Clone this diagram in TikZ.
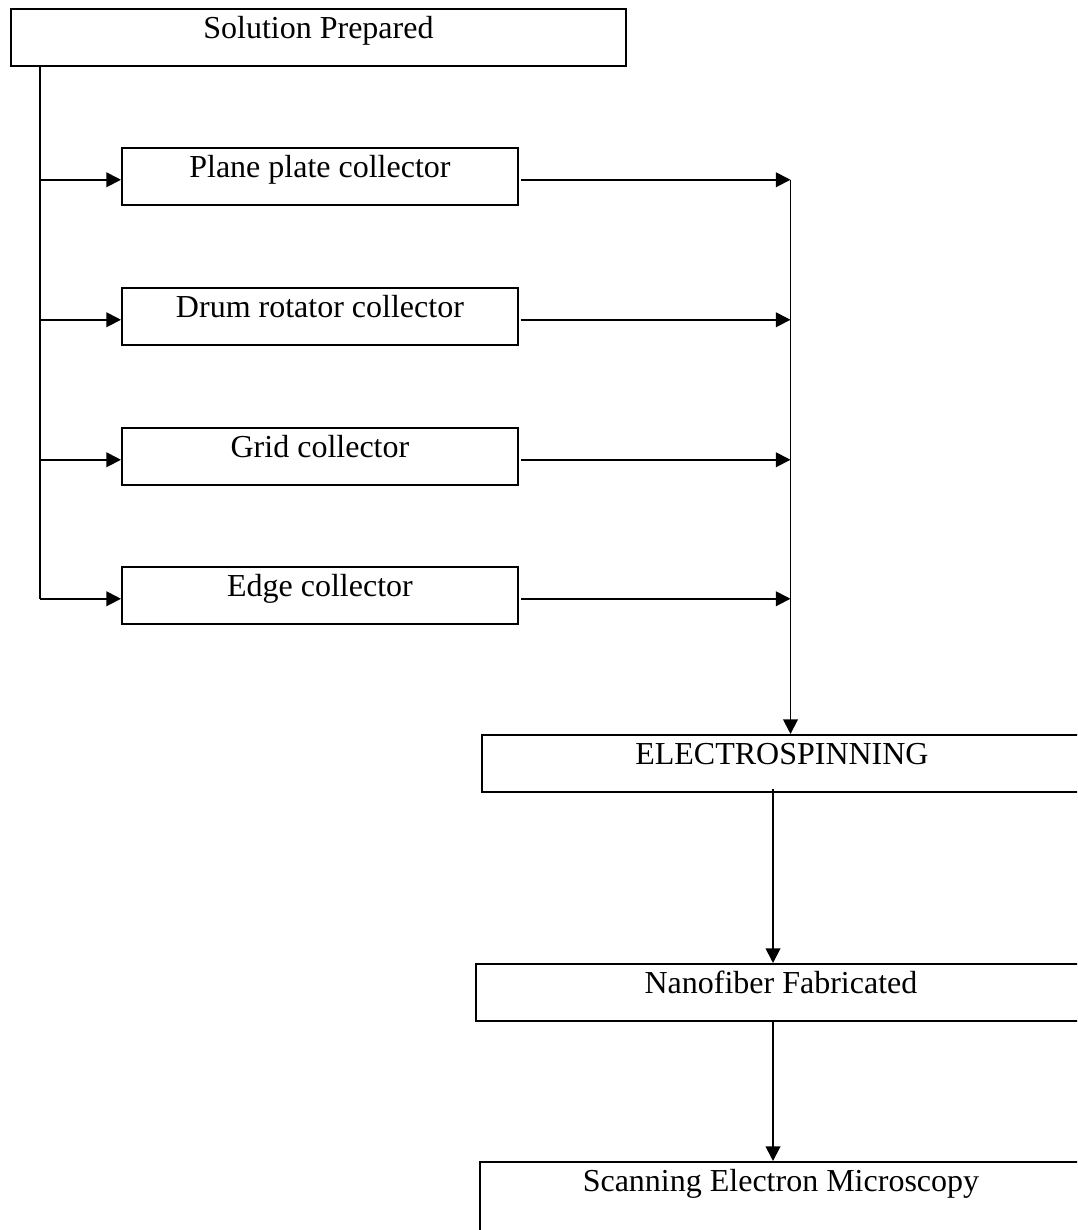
\documentclass[tikz,border=0pt]{standalone}
\usepackage{fontspec}
\setmainfont{Liberation Serif}
\usetikzlibrary{arrows.meta}
\begin{document}
\begin{tikzpicture}[x=0.75pt,y=-0.75pt,
  box/.style={draw,line width=1.4pt,rectangle,anchor=north west,inner sep=0pt,
     text height=22.5pt,text depth=20.25pt,minimum height=42.75pt,
     font=\fontsize{24}{28}\selectfont},
  arr/.style={line width=1.4pt,-{Triangle[length=11pt,width=11pt]}},
  ln/.style={line width=1.4pt}]
\useasboundingbox (0,0) rectangle (1077,1230);
\clip (0,0) rectangle (1077,1230);
\node[box,minimum width=461.25pt] (sol) at (10,8) {Solution Prepared};
\node[box,minimum width=297pt] (plane) at (121,147) {Plane plate collector};
\node[box,minimum width=297pt] (drum) at (121,287) {Drum rotator collector};
\node[box,minimum width=297pt] (grid) at (121,427) {Grid collector};
\node[box,minimum width=297pt] (edge) at (121,566) {Edge collector};
\node[box,minimum width=450pt] (elec) at (481,734) {ELECTROSPINNING};
\node[box,minimum width=457.5pt] (nano) at (475,963) {Nanofiber Fabricated};
\node[box,minimum width=451.5pt,text depth=54pt,minimum height=76.5pt] (sem) at (479,1161) {Scanning Electron Microscopy};
\coordinate (trunk) at (40,64);
\coordinate (bus) at (790.5,179);
\coordinate (ax) at (773,0);
\draw[ln] (sol.south -| trunk) -- ([yshift=-2.5pt]edge.west -| trunk);
\draw[arr] ([yshift=-2.5pt]plane.west -| trunk) -- ([yshift=-2.5pt]plane.west);
\draw[arr] ([yshift=-2.5pt]drum.west -| trunk) -- ([yshift=-2.5pt]drum.west);
\draw[arr] ([yshift=-2.5pt]grid.west -| trunk) -- ([yshift=-2.5pt]grid.west);
\draw[arr] ([yshift=-2.5pt]edge.west -| trunk) -- ([yshift=-2.5pt]edge.west);
\draw[arr] ([xshift=1.5pt,yshift=-2.5pt]plane.east) -- ([yshift=-2.5pt]plane.east -| bus);
\draw[arr] ([xshift=1.5pt,yshift=-2.5pt]drum.east) -- ([yshift=-2.5pt]drum.east -| bus);
\draw[arr] ([xshift=1.5pt,yshift=-2.5pt]grid.east) -- ([yshift=-2.5pt]grid.east -| bus);
\draw[arr] ([xshift=1.5pt,yshift=-2.5pt]edge.east) -- ([yshift=-2.5pt]edge.east -| bus);
\draw[arr] ([yshift=-2.5pt]plane.east -| bus) -- (bus |- elec.north);
\draw[arr] ([yshift=3pt]elec.south -| ax) -- (nano.north -| ax);
\draw[arr] (nano.south -| ax) -- (sem.north -| ax);
\end{tikzpicture}
\end{document}
